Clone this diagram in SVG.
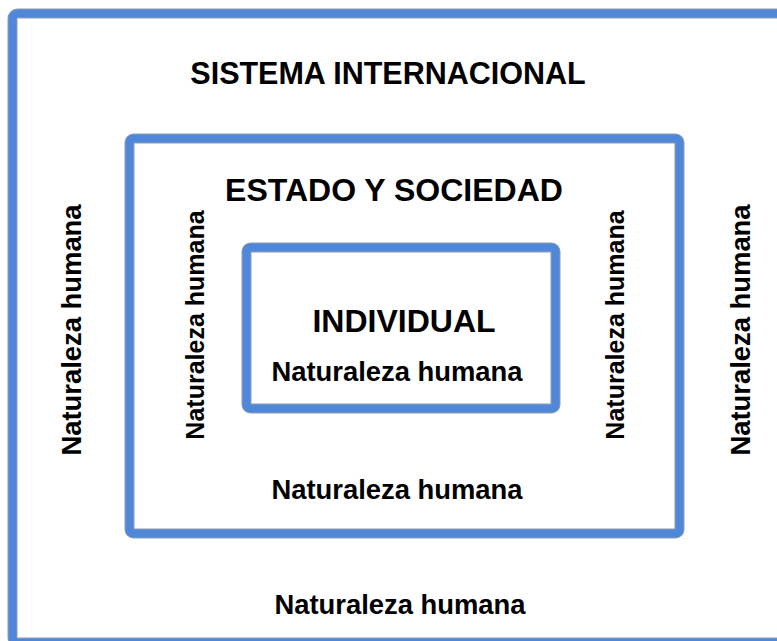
<svg xmlns="http://www.w3.org/2000/svg" width="777" height="641" viewBox="0 0 777 641">
<style>
.edge{fill:none;stroke:#8f9db3;stroke-width:10}
.box{fill:none;stroke:#4f88d8;stroke-width:8}
.t{font-family:"Liberation Sans",Arial,sans-serif;font-weight:bold;fill:#000;text-anchor:middle}
.h1{font-size:30.5px}
.h2{font-size:32px}
.h3{font-size:32px}
.n{font-size:27.4px}
.m{font-size:25px}
</style>
<rect width="777" height="641" fill="#fff"/>
<g id="sistema-internacional">
<rect class="edge" x="12.5" y="13.5" width="770" height="629" rx="5"/>
<rect class="box" x="12.5" y="13.5" width="770" height="629" rx="5"/>
<text class="t h1" x="388" y="84">SISTEMA INTERNACIONAL</text>
<text class="t n" transform="translate(81 330) rotate(-90)">Naturaleza humana</text>
<text class="t n" transform="translate(750 330) rotate(-90)">Naturaleza humana</text>
<text class="t n" x="400" y="614">Naturaleza humana</text>
</g>
<g id="estado-y-sociedad">
<rect class="edge" x="129.5" y="138.5" width="550" height="395" rx="4"/>
<rect class="box" x="129.5" y="138.5" width="550" height="395" rx="4"/>
<text class="t h2" x="394" y="201">ESTADO Y SOCIEDAD</text>
<text class="t m" transform="translate(204 325) rotate(-90)">Naturaleza humana</text>
<text class="t m" transform="translate(624 325) rotate(-90)">Naturaleza humana</text>
<text class="t n" x="397" y="499">Naturaleza humana</text>
</g>
<g id="individual">
<rect class="edge" x="246.5" y="247.5" width="309" height="161" rx="4"/>
<rect class="box" x="246.5" y="247.5" width="309" height="161" rx="4"/>
<text class="t h3" x="404" y="332">INDIVIDUAL</text>
<text class="t n" x="397" y="381">Naturaleza humana</text>
</g>
<g id="connectors"></g>
</svg>
